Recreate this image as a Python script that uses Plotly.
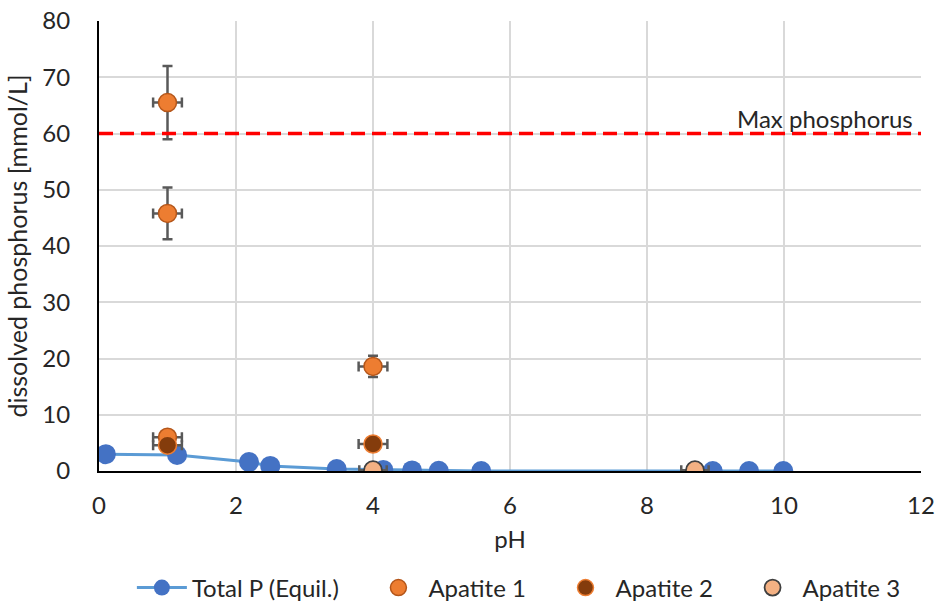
import plotly.graph_objects as go

# Data
total_ph = [0.1, 1.14, 2.19, 2.5, 3.47, 4.15, 4.57, 4.96, 5.58, 8.96, 9.49, 9.99]
total_p = [3.0, 2.85, 1.6, 0.9, 0.35, 0.2, 0.1, 0.05, 0.0, 0.0, 0.0, 0.0]

ap1_ph = [1.0, 1.0, 1.0, 4.0]
ap1_p = [65.5, 45.8, 6.0, 18.6]
ap1_err = [6.5, 4.6, 0.5, 1.9]
ap1_xerr = [0.21, 0.21, 0.21, 0.21]

ap2_ph = [1.0, 4.0]
ap2_p = [4.6, 4.8]
ap2_err = [0.5, 0.5]
ap2_xerr = [0.21, 0.21]

ap3_ph = [4.0, 8.7]
ap3_p = [0.15, 0.15]
ap3_xerr = [0.2, 0.2]

max_p = 60
x_ticks = [0, 2, 4, 6, 8, 10, 12]
y_ticks = [0, 10, 20, 30, 40, 50, 60, 70, 80]
series_names = ["Total P (Equil.)", "Apatite 1", "Apatite 2", "Apatite 3"]

FONT = "Lato"
FS = 24
TXT = "#262626"
ERR = dict(color="#595959", thickness=2.5, width=5)
PAD = "\u00a0" * 4

fig = go.Figure()
fig.add_trace(go.Scatter(
    x=total_ph, y=total_p, mode="lines+markers", name=series_names[0] + PAD,
    line=dict(color="#5B9BD5", width=3),
    marker=dict(color="#4472C4", size=20, line=dict(width=0)),
))
fig.add_trace(go.Scatter(
    x=ap1_ph, y=ap1_p, mode="markers", name=series_names[1] + PAD,
    marker=dict(color="#ED7D31", size=18, line=dict(color="#B4561A", width=1.5)),
    error_y=dict(type="data", array=ap1_err, visible=True, **ERR),
    error_x=dict(type="data", array=ap1_xerr, visible=True, **ERR),
))
fig.add_trace(go.Scatter(
    x=ap2_ph, y=ap2_p, mode="markers", name=series_names[2] + PAD,
    marker=dict(color="#843C0C", size=18, line=dict(color="#ED7D31", width=1.5)),
    error_y=dict(type="data", array=ap2_err, visible=True, **ERR),
    error_x=dict(type="data", array=ap2_xerr, visible=True, **ERR),
))
fig.add_trace(go.Scatter(
    x=ap3_ph, y=ap3_p, mode="markers", name=series_names[3],
    marker=dict(color="#F4B183", size=18, line=dict(color="#404040", width=1.8)),
    error_x=dict(type="data", array=ap3_xerr, visible=True, **ERR),
))

fig.add_hline(y=max_p, line=dict(color="#FF0000", width=3.5, dash="14px,7px"))
fig.add_annotation(x=12, y=max_p, xref="x", yref="y", text="Max phosphorus",
                   showarrow=False, xanchor="right", yanchor="bottom",
                   xshift=-6, yshift=-1, font=dict(size=FS, color=TXT, family=FONT))

fig.update_layout(
    width=937, height=603,
    margin=dict(l=99, r=16, t=21, b=132, autoexpand=False),
    paper_bgcolor="white", plot_bgcolor="white",
    font=dict(family=FONT, size=FS, color=TXT),
    showlegend=True,
    legend=dict(orientation="h", x=0.04, xanchor="left", y=-0.26, yanchor="middle",
                font=dict(size=FS), itemwidth=50, traceorder="normal"),
    xaxis=dict(range=[0, 12], tickvals=x_ticks, showgrid=True, gridcolor="#D9D9D9",
               gridwidth=1.5, zeroline=False, showline=True, linecolor="black",
               linewidth=2, ticks="", ticklabelstandoff=12,
               title=dict(text="pH", font=dict(size=FS), standoff=13),
               mirror=False),
    yaxis=dict(range=[0, 80], tickvals=y_ticks, showgrid=True, gridcolor="#D9D9D9",
               gridwidth=1.5, zeroline=False, showline=True, linecolor="black",
               linewidth=2, ticks="", ticklabelstandoff=22,
               title=dict(text="dissolved phosphorus [mmol/L]", font=dict(size=FS + 1), standoff=8)),
)

fig.write_html("out.html")
